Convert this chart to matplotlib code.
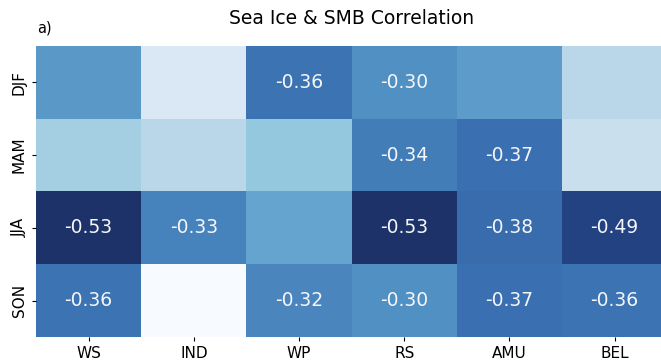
import numpy as np
import pandas as pd
import matplotlib
matplotlib.use("Agg")
import matplotlib.pyplot as plt
from matplotlib.colors import LinearSegmentedColormap
import seaborn as sns

############ DATA ########################

regions = ["WS", "IND", "WP", "RS", "AMU", "BEL"]
seasons = ["DJF", "MAM", "JJA", "SON"]

# correlation of sea ice extent with SMB, per season and sector
corr_djf = [-0.28, 0.04, -0.36, -0.30, -0.27, -0.06]
corr_mam = [-0.11, -0.06, -0.15, -0.34, -0.37, -0.01]
corr_jja = [-0.53, -0.33, -0.25, -0.53, -0.38, -0.49]
corr_son = [-0.36, 0.12, -0.32, -0.30, -0.37, -0.36]

# only the significant correlations get a label
sig_djf = [False, False, True, True, False, False]
sig_mam = [False, False, False, True, True, False]
sig_jja = [True, True, False, True, True, True]
sig_son = [True, False, True, True, True, True]

corr = pd.DataFrame([corr_djf, corr_mam, corr_jja, corr_son],
                    index=seasons, columns=regions)
sig = np.array([sig_djf, sig_mam, sig_jja, sig_son])
labels = np.where(sig, corr.map(lambda v: f"{v:.2f}").values, "")

############ COLOURS ########################

# a softer, slightly desaturated reversed Blues
soft_blues = LinearSegmentedColormap.from_list("soft_blues", [
    (0.00, "#1c3269"),
    (0.06, "#224282"),
    (0.25, "#3a71b2"),
    (0.35, "#508fc2"),
    (0.47, "#6eaed5"),
    (0.60, "#98cbe0"),
    (0.75, "#bfd9ea"),
    (0.88, "#dae8f5"),
    (1.00, "#f7fbff"),
])

############ PLOT ########################

fig = plt.figure(figsize=(6.61, 3.63), dpi=100)
ax = fig.add_axes([0.0545, 0.0716, 0.955, 0.802])

sns.heatmap(corr, ax=ax, cmap=soft_blues, vmin=-0.53, vmax=0.12, cbar=False,
            annot=labels, fmt="", annot_kws={"fontsize": 13.5, "color": "#f4f6f9"})

ax.set_title("Sea Ice & SMB Correlation", fontsize=13.5, pad=16)
fig.text(37 / 661, 1 - 28 / 363, "a)", fontsize=10.5, va="center", ha="left")
ax.tick_params(axis="x", labelsize=11, length=3)
ax.tick_params(axis="y", labelsize=11, length=3, labelrotation=90)
for lab in ax.get_yticklabels():
    lab.set_verticalalignment("center")

fig.savefig("out.png", dpi=100)
